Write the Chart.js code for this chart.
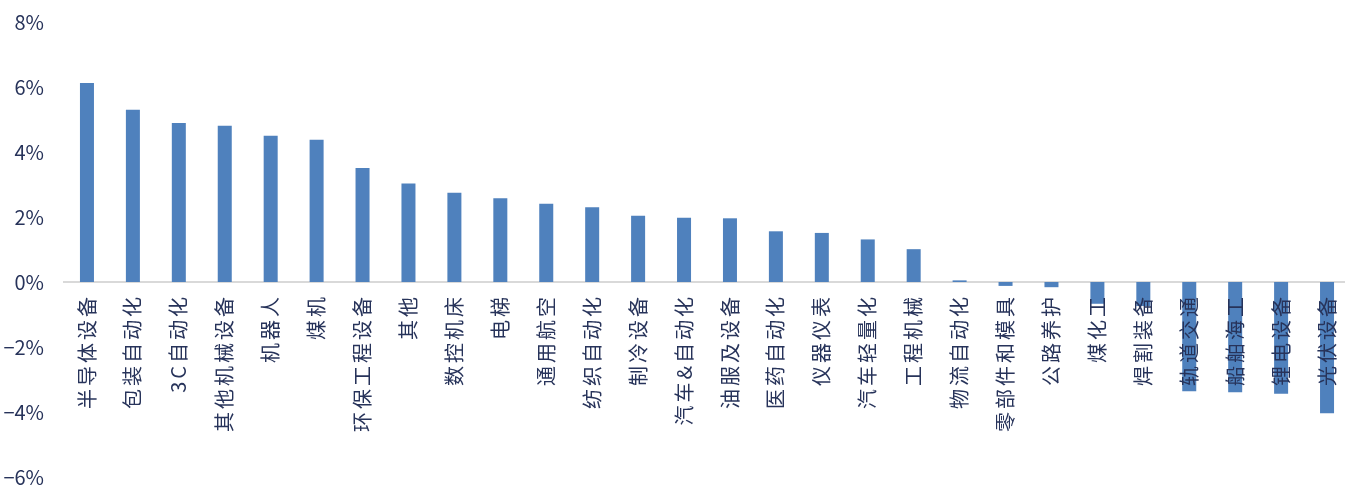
<!DOCTYPE html>
<html>
<head>
<meta charset="utf-8">
<script src="https://cdn.jsdelivr.net/npm/chart.js@4.4.1/dist/chart.umd.min.js"></script>
<style>
  html, body { margin: 0; padding: 0; background: #ffffff; overflow: hidden; }
  #wrap { width: 1350px; height: 487px; }
</style>
</head>
<body>
<div id="wrap"><canvas id="c" width="1350" height="487"></canvas></div>
<script>
// 各细分行业涨跌幅（%）
const categories = [
  '半导体设备', '包装自动化', '3C自动化', '其他机械设备', '机器人', '煤机',
  '环保工程设备', '其他', '数控机床', '电梯', '通用航空', '纺织自动化',
  '制冷设备', '汽车&自动化', '油服及设备', '医药自动化', '仪器仪表', '汽车轻量化',
  '工程机械', '物流自动化', '零部件和模具', '公路养护', '煤化工', '焊割装备',
  '轨道交通', '船舶海工', '锂电设备', '光伏设备'
];
const changePct = [
  6.12, 5.30, 4.89, 4.81, 4.50, 4.38,
  3.51, 3.03, 2.75, 2.58, 2.41, 2.30,
  2.04, 1.98, 1.96, 1.56, 1.51, 1.31,
  1.01, 0.05, -0.12, -0.16, -0.67, -0.74,
  -3.36, -3.39, -3.44, -4.04
];
const yTicks = [-6, -4, -2, 0, 2, 4, 6, 8];

const textColor = '#27335a';
const barColor = '#4f81bd';

function pctLabel(v) {
  if (v === 0) return '0%';
  return (v < 0 ? '\u2212' + Math.abs(v) : String(v)) + '%';
}

// 分类标签画在柱子之上，字距略宽
const labelSpacing = {
  id: 'labelSpacing',
  afterDatasetsDraw(chart) { chart.ctx.letterSpacing = '3px'; },
  afterDraw(chart) { chart.ctx.letterSpacing = '0px'; }
};

new Chart(document.getElementById('c'), {
  type: 'bar',
  data: {
    labels: categories,
    datasets: [{
      data: changePct,
      backgroundColor: barColor,
      borderWidth: 0,
      barPercentage: 0.305,
      categoryPercentage: 1.0
    }]
  },
  options: {
    responsive: false,
    animation: false,
    layout: { padding: { top: 22, bottom: 10, left: 0, right: 0 } },
    plugins: { legend: { display: false }, tooltip: { enabled: false } },
    scales: {
      x: {
        position: { y: 0 },
        grid: { display: false, drawTicks: false },
        border: { display: true, color: '#d9d9d9', width: 2 },
        ticks: {
          z: 1,
          autoSkip: false,
          minRotation: 90,
          maxRotation: 90,
          padding: 12,
          color: textColor,
          font: { family: '"Noto Sans CJK SC", "Noto Sans", sans-serif', size: 20 }
        },
        afterFit(scale) {
          scale.height = 0;
          scale.paddingLeft = 0;
          scale.paddingRight = 0;
        }
      },
      y: {
        min: -6,
        max: 8,
        afterBuildTicks(scale) { scale.ticks = yTicks.map(v => ({ value: v })); },
        afterFit(scale) {
          scale.width = 64;
          scale.paddingTop = 0;
          scale.paddingBottom = 0;
        },
        grid: { display: false, drawTicks: false },
        border: { display: false },
        ticks: {
          padding: 20,
          color: textColor,
          font: { family: '"Noto Sans CJK SC", "Noto Sans", sans-serif', size: 20 },
          callback: (v) => pctLabel(v)
        }
      }
    }
  },
  plugins: [labelSpacing]
});
</script>
</body>
</html>
